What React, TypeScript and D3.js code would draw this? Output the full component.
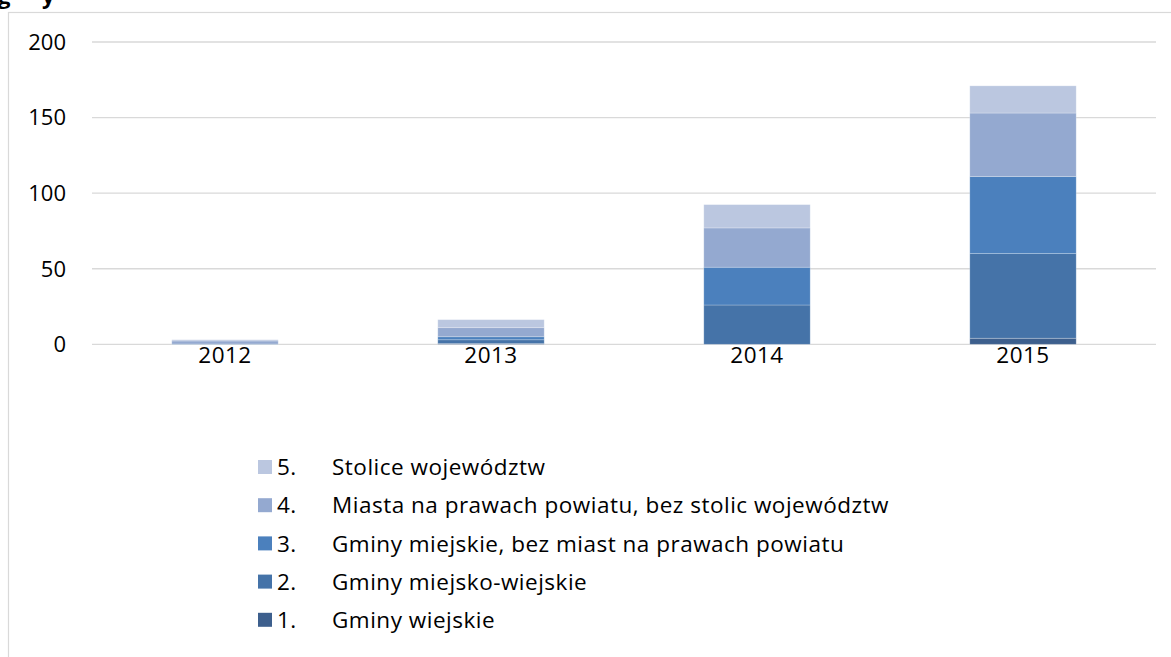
import React from "react";
import * as d3 from "d3";

const years = ["2012", "2013", "2014", "2015"];
const seriesNames = [
  "Gminy wiejskie",
  "Gminy miejsko-wiejskie",
  "Gminy miejskie, bez miast na prawach powiatu",
  "Miasta na prawach powiatu, bez stolic województw",
  "Stolice województw",
];
const seriesNumbers = ["1.", "2.", "3.", "4.", "5."];
const s1 = [0, 0.5, 0, 4];
const s2 = [0, 2.5, 26, 56];
const s3 = [0.2, 2, 25, 51];
const s4 = [2, 6, 26, 42];
const s5 = [0.8, 5.3, 15.4, 18];
const yTicks = [0, 50, 100, 150, 200];
const colors = ["#3D5F8D", "#4573A8", "#4B80BD", "#94A9D0", "#BBC7E0"];

const W = 1171;
const H = 657;
const FONT = "'Open Sans', Lato, sans-serif";

export default function App() {
  const values = [s1, s2, s3, s4, s5];
  const table = years.map((y, i) => {
    const row: any = { year: y };
    values.forEach((s, k) => (row["s" + k] = s[i]));
    return row;
  });
  const keys = values.map((_, k) => "s" + k);
  const stacked = d3.stack().keys(keys)(table);

  const x = d3.scaleBand().domain(years).range([92, 1156]).paddingInner(0.6).paddingOuter(0.3);
  const y = d3.scaleLinear().domain([0, 200]).range([344.3, 42]);

  const legendOrder = [4, 3, 2, 1, 0];

  return (
    <svg width={W} height={H} style={{ position: "absolute", left: 0, top: 0, background: "#fff" }} fontFamily={FONT}>
      <rect x={0} y={0} width={W} height={H} fill="#fff" />
      <text x={-2} y={4} fontSize={22} fontWeight="bold" fill="#000">g</text>
      <text x={42} y={4} fontSize={22} fontWeight="bold" fill="#000">y</text>
      <rect x={8.5} y={12.5} width={W + 20} height={H + 20} fill="none" stroke="#d9d9d9" strokeWidth={1.2} />
      {yTicks.map((t) => (
        <g key={t}>
          <line x1={92} x2={1156} y1={y(t)} y2={y(t)} stroke="#d9d9d9" strokeWidth={1.3} />
          <text x={66} y={y(t)} dy="0.36em" textAnchor="end" fontSize={22} fill="#000">
            {t}
          </text>
        </g>
      ))}
      {stacked.map((layer, k) => (
        <g key={k} fill={colors[k]}>
          {layer.map((d: any, i) => {
            const y0 = y(d[0]);
            const y1 = y(d[1]);
            return (
              <rect
                key={i}
                x={x(years[i])}
                y={y1}
                width={x.bandwidth()}
                height={Math.max(0, y0 - y1)}
                stroke="rgba(255,255,255,0.3)"
                strokeWidth={0.8}
              />
            );
          })}
        </g>
      ))}
      {years.map((yr) => (
        <text key={yr} x={(x(yr) as number) + x.bandwidth() / 2} y={363} textAnchor="middle" fontSize={22.5} letterSpacing={0.5} fill="#000">
          {yr}
        </text>
      ))}
      {legendOrder.map((k, j) => {
        const cy = 467 + j * 38.2;
        return (
          <g key={k}>
            <rect x={258} y={cy - 7} width={14} height={14} fill={colors[k]} />
            <text x={277} y={cy} dy="0.36em" fontSize={22.5} letterSpacing={0.5} fill="#000">{seriesNumbers[k]}</text>
            <text x={332} y={cy} dy="0.36em" fontSize={22.5} letterSpacing={0.5} fill="#000">{seriesNames[k]}</text>
          </g>
        );
      })}
    </svg>
  );
}
